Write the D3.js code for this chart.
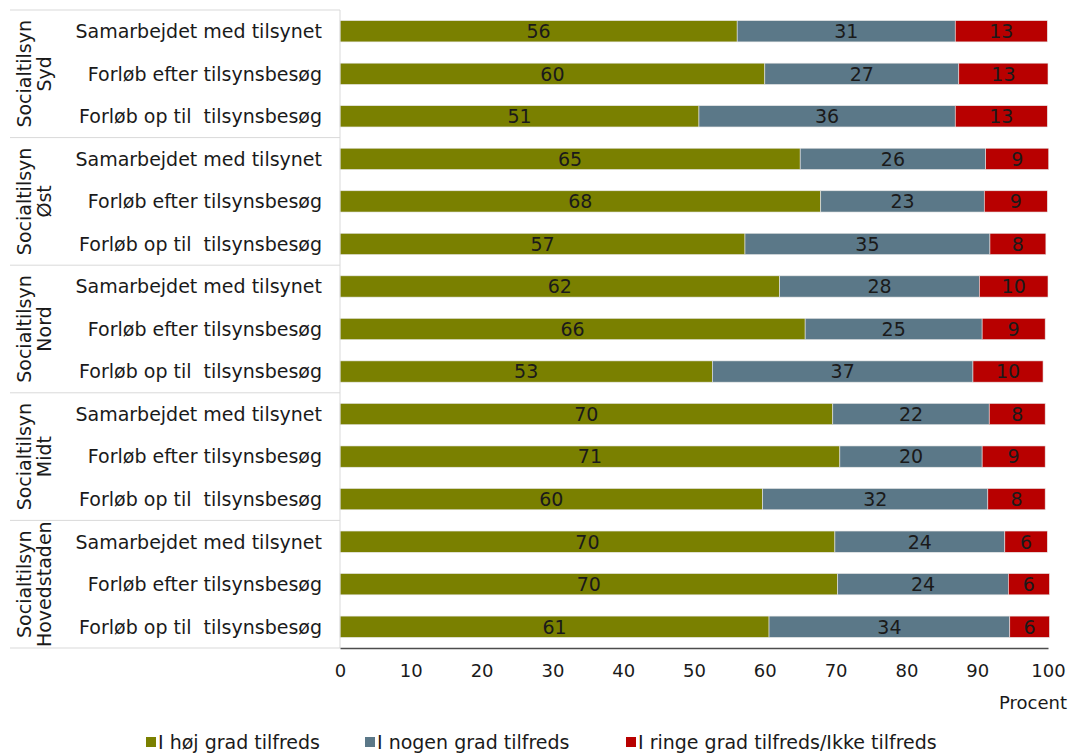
<!DOCTYPE html>
<html><head><meta charset="utf-8">
<script src="https://cdn.jsdelivr.net/npm/d3@7"></script>
<style>body{margin:0;background:#fff;font-family:"DejaVu Sans",Verdana,sans-serif;} text{white-space:pre;}</style>
</head><body><svg id="c" width="1070" height="753"></svg>
<script>
const groups = ["Syd","Øst","Nord","Midt","Hovedstaden"];
const groupPrefix = "Socialtilsyn";
const items = ["Samarbejdet med tilsynet","Forløb efter tilsynsbesøg","Forløb op til  tilsynsbesøg"];
const seriesNames = ["I høj grad tilfreds","I nogen grad tilfreds","I ringe grad tilfreds/Ikke tilfreds"];
const colors = ["#7a8000","#5b7888","#b80000"];
const hoej  = [56.1,60.0,50.7, 65.0,67.9,57.2, 62.1,65.7,52.6, 69.6,70.6,59.7, 69.9,70.3,60.6];
const nogen = [30.8,27.4,36.2, 26.2,23.1,34.6, 28.2,25.0,36.8, 22.1,20.1,31.8, 24.0,24.1,34.0];
const ringe = [13.0,12.6,13.0,  8.9, 8.9, 7.9,  9.7, 8.9, 9.9,  7.9, 8.9, 8.1,  6.0, 5.8, 5.6];
const ticks = [0,10,20,30,40,50,60,70,80,90,100];
const axisTitle = "Procent";

const rows = [];
groups.forEach((g,gi)=>items.forEach((it,ii)=>{const k=gi*3+ii; rows.push({key:k,group:g,item:it,vals:[hoej[k],nogen[k],ringe[k]]});}));

const svg = d3.select("#c");
const L=340,R=1048,T=10,B=648;
const x = d3.scaleLinear().domain([0,100]).range([L,R]);
const y = d3.scaleBand().domain(rows.map(r=>r.key)).range([T,B]).paddingInner(0.5).paddingOuter(0.25);
const font = "'DejaVu Sans',Verdana,sans-serif";
const fs = 19;

// bars
rows.forEach(r=>{
  let acc=0;
  r.vals.forEach((v,si)=>{
    const x0=x(acc), x1=x(acc+v);
    svg.append("rect").attr("x",x0).attr("y",y(r.key)).attr("width",x1-x0).attr("height",y.bandwidth())
      .attr("fill",colors[si]).attr("stroke","#e6e6e6").attr("stroke-width",0.6);
    svg.append("text").attr("x",(x0+x1)/2).attr("y",y(r.key)+y.bandwidth()/2).attr("dy","0.36em")
      .attr("text-anchor","middle").attr("font-family",font).attr("font-size",fs).attr("fill","#1a1a1a")
      .text(Math.round(v));
    acc+=v;
  });
});

// category labels
rows.forEach(r=>{
  svg.append("text").attr("x",322).attr("y",y(r.key)+y.bandwidth()/2).attr("dy","0.36em")
    .attr("text-anchor","end").attr("font-family",font).attr("font-size",fs).attr("fill","#1a1a1a")
    .attr("xml:space","preserve").text(r.item);
});

// group separators & labels
const gh=(B-T)/groups.length;
for(let i=0;i<=groups.length;i++){
  svg.append("line").attr("x1",10).attr("x2",L).attr("y1",T+i*gh).attr("y2",T+i*gh).attr("stroke","#d9d9d9").attr("stroke-width",1);
}
groups.forEach((g,i)=>{
  const cy=T+i*gh+gh/2;
  const t=svg.append("text").attr("transform",`translate(35,${cy}) rotate(-90)`).attr("text-anchor","middle")
    .attr("font-family",font).attr("font-size",fs).attr("fill","#1a1a1a");
  t.append("tspan").attr("x",0).attr("dy","-0.2em").text(groupPrefix);
  t.append("tspan").attr("x",0).attr("dy","1.05em").text(g);
});
svg.append("line").attr("x1",L).attr("x2",L).attr("y1",T).attr("y2",B).attr("stroke","#d9d9d9");

// x axis
const ax = svg.append("g").attr("transform",`translate(0,${B})`)
  .call(d3.axisBottom(x).tickValues(ticks).tickSize(0).tickPadding(16));
ax.select(".domain").attr("stroke","#4d4d4d").attr("stroke-width",1.3);
ax.selectAll("text").attr("font-family",font).attr("font-size",18).attr("fill","#1a1a1a");
svg.append("text").attr("x",1067).attr("y",709).attr("text-anchor","end").attr("font-family",font)
  .attr("font-size",18).attr("fill","#1a1a1a").text(axisTitle);

// legend
const lx=[146,365,626];
seriesNames.forEach((s,i)=>{
  svg.append("rect").attr("x",lx[i]).attr("y",737).attr("width",10).attr("height",10).attr("fill",colors[i]);
  svg.append("text").attr("x",lx[i]+12).attr("y",742).attr("dy","0.36em").attr("font-family",font)
    .attr("font-size",fs).attr("fill","#1a1a1a").text(s);
});
</script></body></html>
